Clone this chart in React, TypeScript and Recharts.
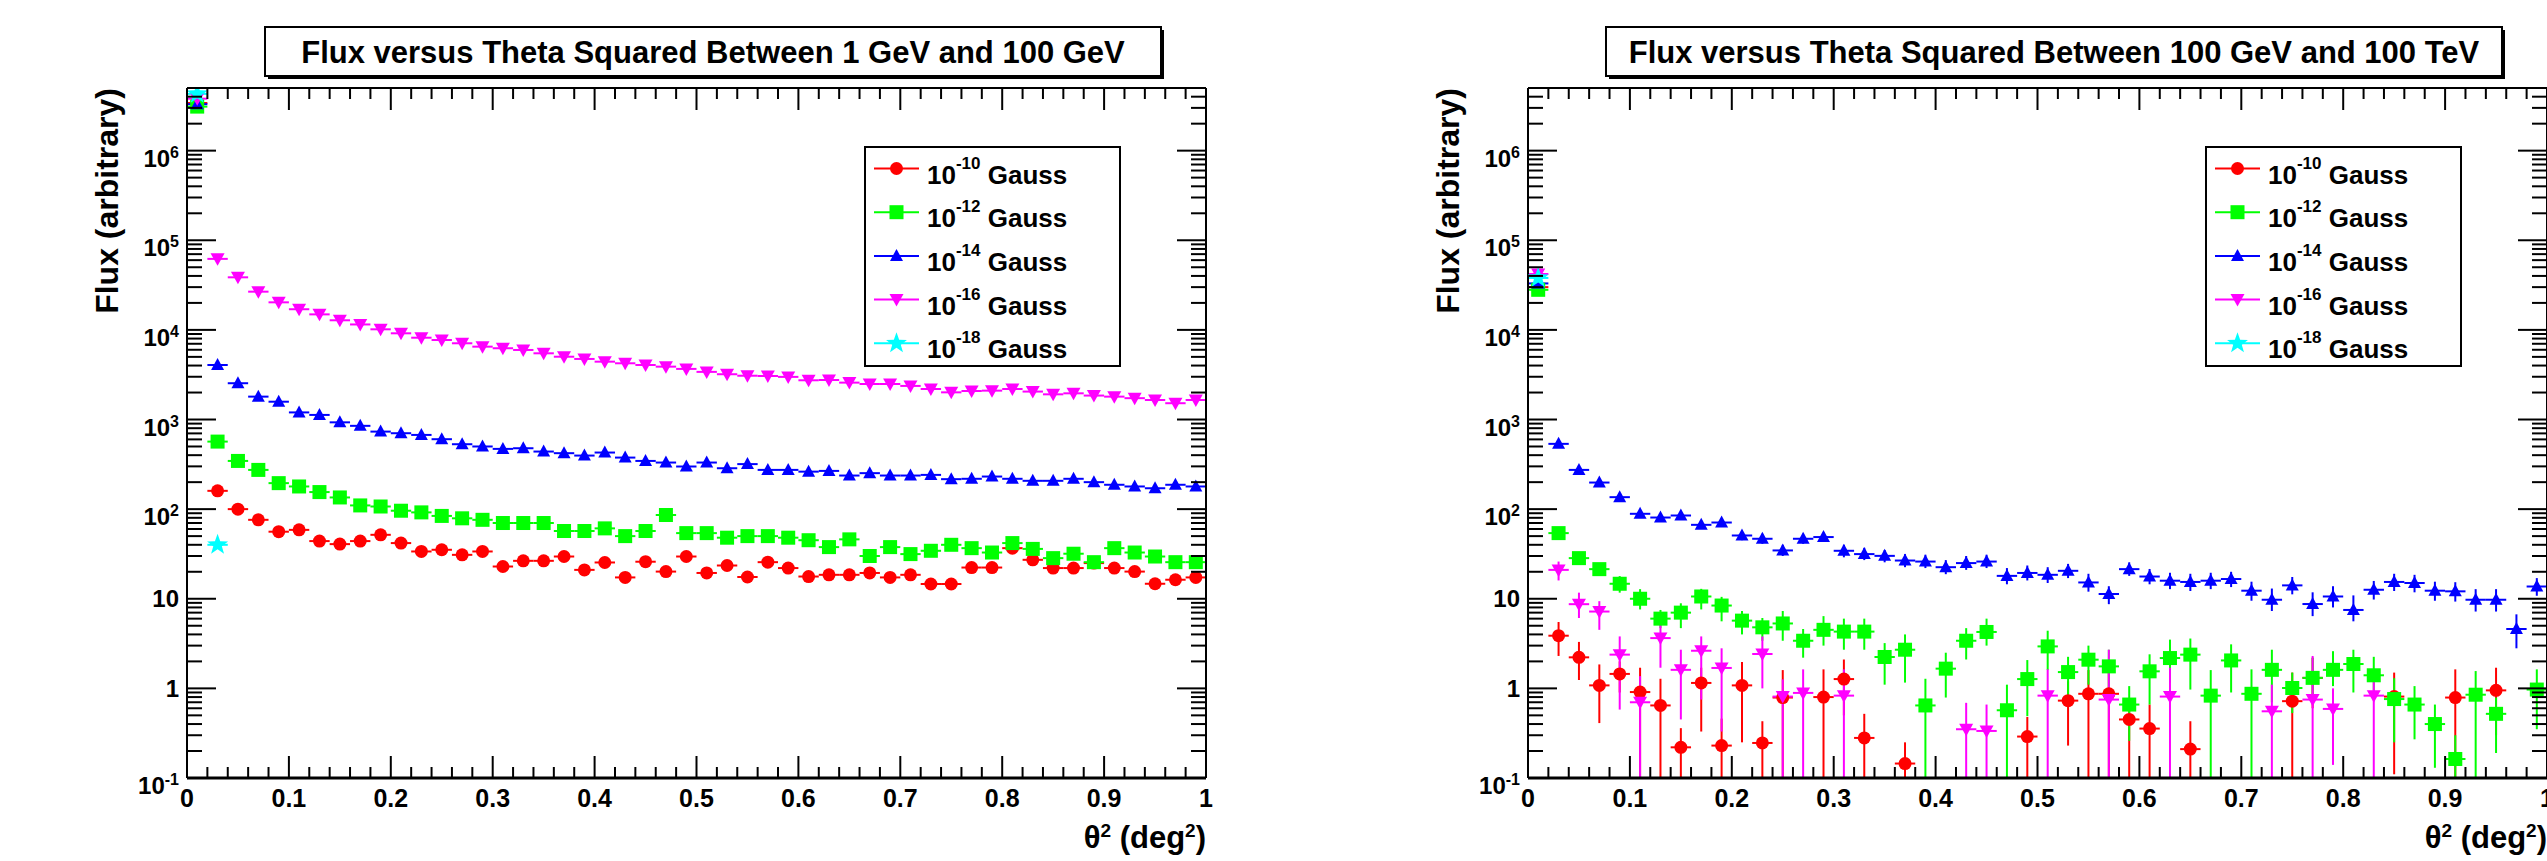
import React from 'react';
import { ScatterChart, Scatter, XAxis, YAxis, ErrorBar } from 'recharts';

const FONT = '"Liberation Sans", Arial, Helvetica, sans-serif';

// theta^2 bins are 0.02 wide, centred at 0.01 ... 0.99
const binCentres = [
  0.01, 0.03, 0.05, 0.07, 0.09, 0.11, 0.13, 0.15, 0.17, 0.19,
  0.21, 0.23, 0.25, 0.27, 0.29, 0.31, 0.33, 0.35, 0.37, 0.39,
  0.41, 0.43, 0.45, 0.47, 0.49, 0.51, 0.53, 0.55, 0.57, 0.59,
  0.61, 0.63, 0.65, 0.67, 0.69, 0.71, 0.73, 0.75, 0.77, 0.79,
  0.81, 0.83, 0.85, 0.87, 0.89, 0.91, 0.93, 0.95, 0.97, 0.99,
];
const binHalfWidth = 0.01;

const xTicks = [
  0, 0.02, 0.04, 0.06, 0.08, 0.1, 0.12, 0.14, 0.16, 0.18, 0.2, 0.22, 0.24, 0.26, 0.28,
  0.3, 0.32, 0.34, 0.36, 0.38, 0.4, 0.42, 0.44, 0.46, 0.48, 0.5, 0.52, 0.54, 0.56, 0.58,
  0.6, 0.62, 0.64, 0.66, 0.68, 0.7, 0.72, 0.74, 0.76, 0.78, 0.8, 0.82, 0.84, 0.86, 0.88,
  0.9, 0.92, 0.94, 0.96, 0.98, 1,
];
const yDecades = [0.1, 1, 10, 100, 1e3, 1e4, 1e5, 1e6];
const yMinorFactors = [2, 3, 4, 5, 6, 7, 8, 9];
const yDomain: [number, number] = [0.1, 5e6];
const yTicks = yDecades
  .flatMap((d) => [d, ...yMinorFactors.map((f) => d * f)])
  .filter((v) => v <= yDomain[1]);

const fieldExponents = ['-10', '-12', '-14', '-16', '-18'];

// ---- left panel: 1 GeV - 100 GeV (one value per bin) ----
const leftRed = [
  3.4e6, 160, 100, 76, 56, 58.7, 44, 40.7, 44, 51.7,
  41.8, 33.7, 35.2, 30.9, 33.7, 22.9, 26.5, 26.5, 29.6, 21,
  25.4, 17.3, 25.9, 20.1, 29.6, 19.4, 23.5, 17.5, 25.6, 22,
  17.7, 18.5, 18.5, 19.4, 17.3, 18.5, 14.6, 14.6, 22.3, 22.3,
  36.7, 27.2, 22, 22, 25, 22, 20.1, 14.7, 16.3, 17.3,
];
const leftGreen = [
  3.1e6, 567, 345, 274, 195, 179, 155, 135, 110, 107,
  96, 92, 84, 79, 76, 70, 70, 70, 57, 57,
  61, 50, 57, 86, 54, 54, 48, 50, 50, 48,
  45, 37.7, 46, 30, 37.7, 31.5, 34.3, 40, 36.7, 32.8,
  41.8, 36, 28.4, 31.8, 25.6, 36.7, 32.8, 29.6, 25.6, 25.6,
];
const leftBlue = [
  3.3e6, 4060, 2540, 1800, 1580, 1200, 1125, 930, 850, 733,
  703, 673, 603, 530, 500, 470, 478, 439, 421, 396,
  428, 376, 345, 331, 299, 331, 286, 318, 274, 274,
  262, 267, 237, 252, 237, 237, 241, 216, 218, 231,
  218, 207, 207, 218, 200, 187, 179, 171, 187, 179,
];
const leftMagenta = [
  3.8e6, 62000, 38600, 26700, 20300, 17000, 14900, 12800, 11500, 10150,
  9160, 8180, 7710, 7090, 6500, 6240, 5970, 5480, 5020, 4740,
  4420, 4240, 4060, 3890, 3670, 3400, 3200, 3080, 3060, 2990,
  2740, 2760, 2580, 2490, 2490, 2370, 2190, 2010, 2080, 2100,
  2190, 2050, 1910, 1960, 1850, 1800, 1730, 1650, 1520, 1650,
];
const leftCyan: (number | null)[] = [4.3e6, 40, ...Array(48).fill(null)];

// ---- right panel: 100 GeV - 100 TeV, [theta2, flux, errLowEdge, errHighEdge] ----
const rightRed = [
  [0.01, 3.0e4, 3.0e4, 3.0e4], [0.03, 3.87, 2.3, 5.5], [0.05, 2.22, 1.24, 3.3],
  [0.07, 1.08, 0.41, 1.85], [0.09, 1.45, 0.9, 2.0], [0.11, 0.91, 0.1, 1.7],
  [0.13, 0.645, 0.1, 1.28], [0.15, 0.22, 0.1, 0.36], [0.17, 1.15, 0.33, 1.7],
  [0.19, 0.23, 0.1, 0.46], [0.21, 1.08, 0.25, 1.97], [0.23, 0.246, 0.1, 0.43],
  [0.25, 0.79, 0.1, 1.6], [0.29, 0.8, 0.1, 1.63], [0.31, 1.27, 0.5, 2.1],
  [0.33, 0.28, 0.1, 0.52], [0.37, 0.145, 0.1, 0.25], [0.49, 0.29, 0.1, 0.48],
  [0.53, 0.73, 0.23, 1.2], [0.55, 0.87, 0.1, 1.6], [0.57, 0.87, 0.1, 1.6],
  [0.59, 0.45, 0.1, 0.75], [0.61, 0.356, 0.1, 0.66], [0.65, 0.21, 0.1, 0.43],
  [0.75, 0.72, 0.1, 1.5], [0.77, 1.31, 0.6, 2.2], [0.85, 0.81, 0.11, 1.5],
  [0.91, 0.79, 0.1, 1.63], [0.95, 0.95, 0.3, 1.7],
];
const rightGreen = [
  [0.01, 2.8e4, 2.8e4, 2.8e4], [0.03, 54, 48, 60], [0.05, 28.4, 24, 33],
  [0.07, 21.4, 18, 25], [0.09, 14.7, 11.7, 17.9], [0.11, 10, 7.6, 12.8],
  [0.13, 6.0, 4.7, 7.5], [0.15, 7.0, 4.7, 8.9], [0.17, 10.6, 7.6, 12.9],
  [0.19, 8.4, 5.6, 10.5], [0.21, 5.7, 4.0, 7.3], [0.23, 4.8, 3.4, 6.1],
  [0.25, 5.3, 3.4, 7.3], [0.27, 3.4, 2.2, 4.6], [0.29, 4.5, 3.0, 6.4],
  [0.31, 4.3, 2.7, 6.0], [0.33, 4.3, 2.7, 6.0], [0.35, 2.24, 1.1, 3.2],
  [0.37, 2.7, 1.16, 4.0], [0.39, 0.645, 0.1, 1.28], [0.41, 1.66, 0.79, 2.5],
  [0.43, 3.4, 2.1, 4.7], [0.45, 4.26, 3.0, 6.0], [0.47, 0.57, 0.1, 1.1],
  [0.49, 1.27, 0.49, 2.07], [0.51, 2.94, 1.6, 4.4], [0.53, 1.52, 0.75, 2.25],
  [0.55, 2.09, 1.1, 3.0], [0.57, 1.76, 0.82, 2.7], [0.59, 0.66, 0.26, 1.06],
  [0.61, 1.55, 0.66, 2.4], [0.63, 2.18, 1.16, 3.5], [0.65, 2.38, 0.97, 3.6],
  [0.67, 0.83, 0.1, 1.6], [0.69, 2.05, 0.9, 3.1], [0.71, 0.87, 0.1, 1.63],
  [0.73, 1.61, 0.7, 2.7], [0.75, 1.01, 0.53, 1.5], [0.77, 1.31, 0.7, 2.2],
  [0.79, 1.61, 1.06, 2.6], [0.81, 1.87, 0.9, 2.7], [0.83, 1.4, 0.82, 2.25],
  [0.85, 0.76, 0.25, 1.3], [0.87, 0.66, 0.27, 1.06], [0.89, 0.4, 0.13, 0.66],
  [0.91, 0.163, 0.1, 0.3], [0.93, 0.85, 0.1, 1.56], [0.95, 0.52, 0.19, 0.79],
  [0.99, 0.97, 0.35, 1.63],
];
const rightBlue = [
  [0.01, 3.3e4, 3.3e4, 3.3e4], [0.03, 535, 510, 560], [0.05, 274, 258, 290],
  [0.07, 198, 185, 212], [0.09, 136, 125, 147], [0.11, 88.7, 80, 97],
  [0.13, 80.6, 73, 89], [0.15, 84.9, 77, 93], [0.17, 66.8, 60, 74],
  [0.19, 70.9, 64, 78], [0.21, 50.8, 45, 57], [0.23, 46.7, 41, 53],
  [0.25, 34.6, 30, 40], [0.27, 46.7, 41, 53], [0.29, 48.8, 43, 55],
  [0.31, 34.3, 29, 40], [0.33, 31.5, 27, 37], [0.35, 30.1, 25.5, 35],
  [0.37, 26.7, 22.5, 31.5], [0.39, 26, 22, 31], [0.41, 22.5, 18.8, 27],
  [0.43, 25, 21, 30], [0.45, 26, 22, 31], [0.47, 18, 14.5, 22],
  [0.49, 19.4, 16, 23.5], [0.51, 18.5, 15, 22.5], [0.53, 20.5, 17, 24.5],
  [0.55, 15.2, 12, 19], [0.57, 11.3, 8.7, 13.8], [0.59, 21.4, 18, 25.5],
  [0.61, 17.7, 14.5, 21.5], [0.63, 15.9, 12.8, 19.5], [0.65, 15.4, 12.2, 19],
  [0.67, 15.9, 12.8, 19.5], [0.69, 16.6, 13.5, 20], [0.71, 12.3, 9.5, 15.5],
  [0.73, 9.75, 7.3, 13], [0.75, 14.1, 11.2, 17.5], [0.77, 8.73, 6.4, 11.8],
  [0.79, 10.6, 8, 13.8], [0.81, 7.5, 5.6, 10.9], [0.83, 12.6, 9.8, 15.8],
  [0.85, 15.4, 12.2, 19], [0.87, 15, 11.8, 18.5], [0.89, 12.3, 9.5, 15.5],
  [0.91, 12.1, 9.3, 15.3], [0.93, 9.75, 7.2, 12.8], [0.95, 9.75, 7.2, 12.8],
  [0.97, 4.6, 2.8, 6.7], [0.99, 13.7, 10.8, 17],
];
const rightMagenta = [
  [0.01, 4.2e4, 4.2e4, 4.2e4], [0.03, 21, 16, 26], [0.05, 8.7, 6.1, 11.7],
  [0.07, 7.2, 4.5, 9.4], [0.09, 2.38, 0.58, 3.8], [0.11, 0.7, 0.1, 1.37],
  [0.13, 3.64, 1.7, 5.2], [0.15, 1.61, 0.45, 2.7], [0.17, 2.63, 0.75, 3.8],
  [0.19, 1.69, 0.33, 2.8], [0.23, 2.42, 1.0, 3.8], [0.25, 0.81, 0.1, 1.26],
  [0.27, 0.89, 0.1, 1.63], [0.31, 0.83, 0.1, 1.63], [0.43, 0.35, 0.1, 0.69],
  [0.45, 0.335, 0.1, 0.66], [0.51, 0.83, 0.1, 1.63], [0.57, 0.75, 0.1, 2.7],
  [0.63, 0.81, 0.1, 1.7], [0.73, 0.555, 0.1, 1.1], [0.77, 0.75, 0.1, 2.3],
  [0.79, 0.59, 0.14, 1.0], [0.83, 0.83, 0.1, 1.63],
];
const rightCyan = [[0.01, 3.8e4, 3.8e4, 3.8e4]];

type Kind = 'circle' | 'square' | 'up' | 'down' | 'star';
const seriesStyle: { color: string; kind: Kind }[] = [
  { color: '#ff0000', kind: 'circle' },
  { color: '#00ff00', kind: 'square' },
  { color: '#0000ff', kind: 'up' },
  { color: '#ff00ff', kind: 'down' },
  { color: '#00ffff', kind: 'star' },
];

type Row = { x: number; y: number; ex: number; ey?: [number, number] };

const rowsFromValues = (vals: (number | null)[]): Row[] =>
  binCentres.flatMap((x, i) => (vals[i] == null ? [] : [{ x, y: vals[i] as number, ex: binHalfWidth }]));

const rowsFromPoints = (pts: number[][]): Row[] =>
  pts.map(([x, y, lo, hi]) => ({ x, y, ex: binHalfWidth, ey: [y - lo, hi - y] as [number, number] }));

const Marker = ({ kind, cx, cy, color }: { kind: Kind; cx: number; cy: number; color: string }) => {
  if (cx == null || cy == null || isNaN(cx) || isNaN(cy)) return null;
  switch (kind) {
    case 'circle':
      return <circle cx={cx} cy={cy} r={6.5} fill={color} />;
    case 'square':
      return <rect x={cx - 7} y={cy - 7} width={14} height={14} fill={color} />;
    case 'up':
      return <polygon points={`${cx},${cy - 7} ${cx - 6.5},${cy + 5} ${cx + 6.5},${cy + 5}`} fill={color} />;
    case 'down':
      return <polygon points={`${cx},${cy + 7} ${cx - 7},${cy - 5.5} ${cx + 7},${cy - 5.5}`} fill={color} />;
    default: {
      const pts: string[] = [];
      for (let i = 0; i < 10; i++) {
        const a = (-90 + i * 36) * (Math.PI / 180);
        const r = i % 2 ? 4.5 : 11;
        pts.push(`${cx + r * Math.cos(a)},${cy + r * Math.sin(a)}`);
      }
      return <polygon points={pts.join(' ')} fill={color} />;
    }
  }
};

const isMajorX = (v: number) => Math.abs(v * 10 - Math.round(v * 10)) < 1e-6;
const isDecade = (v: number) => Math.abs(Math.log10(v) - Math.round(Math.log10(v))) < 1e-6;

const BottomTick = (p: any) => {
  const { x, y, payload } = p;
  const v = payload.value;
  const major = isMajorX(v);
  const label = v === 0 ? '0' : v === 1 ? '1' : v.toFixed(1);
  return (
    <g>
      <line x1={x} y1={y} x2={x} y2={y - (major ? 22 : 11)} stroke="#000" strokeWidth={2} />
      {major && (
        <text x={x} y={y + 29} textAnchor="middle" fontFamily={FONT} fontWeight="bold" fontSize={25} fill="#000">
          {label}
        </text>
      )}
    </g>
  );
};

const TopTick = (p: any) => {
  const { x, y, payload } = p;
  const major = isMajorX(payload.value);
  return <line x1={x} y1={y} x2={x} y2={y + (major ? 22 : 11)} stroke="#000" strokeWidth={2} />;
};

const LeftTick = (p: any) => {
  const { x, y, payload } = p;
  const v = payload.value;
  const major = isDecade(v);
  const e = Math.round(Math.log10(v));
  const textProps = { fontFamily: FONT, fontWeight: 'bold' as const, fontSize: 24, fill: '#000', textAnchor: 'end' as const };
  return (
    <g>
      <line x1={x} y1={y} x2={x + (major ? 29 : 15)} y2={y} stroke="#000" strokeWidth={2} />
      {major && (e === 0 || e === 1) && (
        <text x={x - 8} y={y + 8.5} {...textProps}>
          {e === 0 ? '1' : '10'}
        </text>
      )}
      {major && e !== 0 && e !== 1 && (
        <text x={x - 8} y={y + 16} {...textProps}>
          10
          <tspan dy={-9} fontSize={16}>
            {String(e)}
          </tspan>
        </text>
      )}
    </g>
  );
};

const RightTick = (p: any) => {
  const { x, y, payload } = p;
  const major = isDecade(payload.value);
  return <line x1={x} y1={y} x2={x - (major ? 29 : 15)} y2={y} stroke="#000" strokeWidth={2} />;
};

// plot frame inside each panel
const PANEL_W = 1300;
const PANEL_H = 861;
const FRAME = { left: 187, right: 1206, top: 88, bottom: 778 };
const LEGEND = { x: 865, y: 147, w: 255, h: 219 };
// axes get a 1px band (recharts skips zero-size axes)
const AXIS_BAND = 1;

interface PanelProps {
  offset: number;
  title: string;
  series: Row[][];
  withYErrors: boolean;
}

const Panel: React.FC<PanelProps> = ({ offset, title, series, withYErrors }) => {
  const titleBox = { x: 265, y: 27, w: 896, h: 49 };
  return (
    <div style={{ position: 'absolute', left: offset, top: 0, width: PANEL_W, height: PANEL_H }}>
      <ScatterChart
        width={PANEL_W}
        height={PANEL_H}
        margin={{
          top: FRAME.top - AXIS_BAND,
          right: PANEL_W - FRAME.right - AXIS_BAND,
          bottom: PANEL_H - FRAME.bottom - AXIS_BAND,
          left: FRAME.left - AXIS_BAND,
        }}
      >
        <XAxis
          xAxisId="b"
          dataKey="x"
          type="number"
          domain={[0, 1]}
          allowDataOverflow
          ticks={xTicks}
          interval={0}
          height={AXIS_BAND}
          tickSize={0}
          tickMargin={0}
          tickLine={false}
          axisLine={{ stroke: '#000', strokeWidth: 3 }}
          tick={BottomTick}
        />
        <XAxis
          xAxisId="t"
          orientation="top"
          dataKey="x"
          type="number"
          domain={[0, 1]}
          allowDataOverflow
          ticks={xTicks}
          interval={0}
          height={AXIS_BAND}
          tickSize={0}
          tickMargin={0}
          tickLine={false}
          axisLine={{ stroke: '#000', strokeWidth: 2 }}
          tick={TopTick}
        />
        <YAxis
          yAxisId="l"
          dataKey="y"
          type="number"
          scale="log"
          domain={yDomain}
          allowDataOverflow
          ticks={yTicks}
          interval={0}
          width={AXIS_BAND}
          tickSize={0}
          tickMargin={0}
          tickLine={false}
          axisLine={{ stroke: '#000', strokeWidth: 2 }}
          tick={LeftTick}
        />
        <YAxis
          yAxisId="r"
          orientation="right"
          dataKey="y"
          type="number"
          scale="log"
          domain={yDomain}
          allowDataOverflow
          ticks={yTicks}
          interval={0}
          width={AXIS_BAND}
          tickSize={0}
          tickMargin={0}
          tickLine={false}
          axisLine={{ stroke: '#000', strokeWidth: 2 }}
          tick={RightTick}
        />
        {/* keeps the mirrored top/right axes tied to data */}
        <Scatter
          xAxisId="t"
          yAxisId="r"
          data={series[0]}
          isAnimationActive={false}
          shape={() => <g />}
        />
        {series.map((rows, k) => {
          const s = seriesStyle[k];
          return (
            <Scatter
              key={k}
              xAxisId="b"
              yAxisId="l"
              data={rows}
              fill={s.color}
              isAnimationActive={false}
              shape={(pp: any) => <Marker kind={s.kind} cx={pp.cx} cy={pp.cy} color={s.color} />}
            >
              <ErrorBar dataKey="ex" direction="x" width={0} stroke={s.color} strokeWidth={2} isAnimationActive={false} />
              {withYErrors && (
                <ErrorBar dataKey="ey" direction="y" width={0} stroke={s.color} strokeWidth={2} isAnimationActive={false} />
              )}
            </Scatter>
          );
        })}
      </ScatterChart>

      <svg
        width={PANEL_W}
        height={PANEL_H}
        style={{ position: 'absolute', left: 0, top: 0, pointerEvents: 'none' }}
        fontFamily={FONT}
      >
        {/* title pave with shadow */}
        <rect x={titleBox.x + 3} y={titleBox.y + 3} width={titleBox.w} height={titleBox.h} fill="#000" />
        <rect x={titleBox.x} y={titleBox.y} width={titleBox.w} height={titleBox.h} fill="#fff" stroke="#000" strokeWidth={2} />
        <text x={titleBox.x + titleBox.w / 2} y={63} textAnchor="middle" fontWeight="bold" fontSize={31} fill="#000">
          {title}
        </text>

        {/* axis titles */}
        <text transform={`translate(118, ${FRAME.top}) rotate(-90)`} textAnchor="end" fontWeight="bold" fontSize={32} fill="#000">
          Flux (arbitrary)
        </text>
        <text x={FRAME.right} y={848} textAnchor="end" fontWeight="bold" fontSize={31} fill="#000">
          θ<tspan dy={-11} fontSize={19}>2</tspan>
          <tspan dy={11}> (deg</tspan>
          <tspan dy={-11} fontSize={19}>2</tspan>
          <tspan dy={11}>)</tspan>
        </text>

        {/* legend */}
        <g transform={`translate(${LEGEND.x}, ${LEGEND.y})`}>
          <rect x={0} y={0} width={LEGEND.w} height={LEGEND.h} fill="#fff" stroke="#000" strokeWidth={2} />
          {seriesStyle.map((s, i) => {
            const cy = 21.5 + i * 43.7;
            return (
              <g key={i}>
                <line x1={9} y1={cy} x2={54} y2={cy} stroke={s.color} strokeWidth={2} />
                <Marker kind={s.kind} cx={31.5} cy={cy} color={s.color} />
                <text x={62} y={cy + 15} fontWeight="bold" fontSize={26} fill="#000">
                  10
                  <tspan dy={-15} fontSize={17}>
                    {fieldExponents[i]}
                  </tspan>
                  <tspan dy={15} fontSize={26}>
                    {' Gauss'}
                  </tspan>
                </text>
              </g>
            );
          })}
        </g>
      </svg>
    </div>
  );
};

const leftSeries = [leftRed, leftGreen, leftBlue, leftMagenta, leftCyan].map(rowsFromValues);
const rightSeries = [rightRed, rightGreen, rightBlue, rightMagenta, rightCyan].map(rowsFromPoints);

export default function App() {
  return (
    <div
      style={{
        position: 'absolute',
        left: 0,
        top: 0,
        width: 2547,
        height: 861,
        overflow: 'hidden',
        background: '#fff',
      }}
    >
      <Panel offset={0} title="Flux versus Theta Squared Between 1 GeV and 100 GeV" series={leftSeries} withYErrors={false} />
      <Panel offset={1341} title="Flux versus Theta Squared Between 100 GeV and 100 TeV" series={rightSeries} withYErrors />
    </div>
  );
}
